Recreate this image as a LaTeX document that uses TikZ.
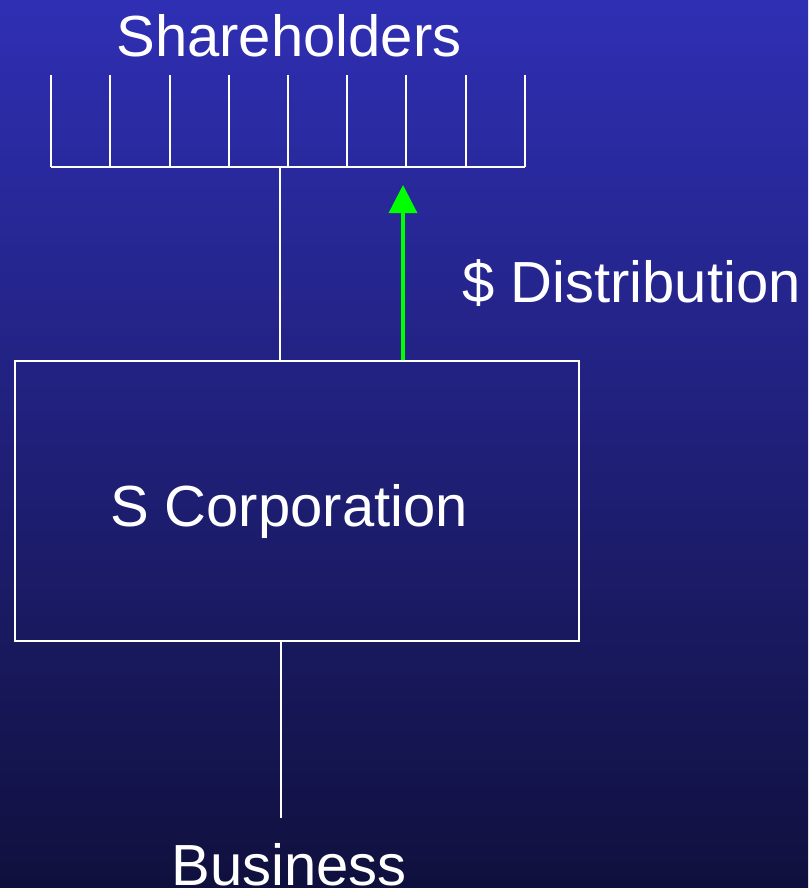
\documentclass[tikz,border=0pt]{standalone}
\usepackage{fontspec}
\setmainfont{Liberation Sans}
\usetikzlibrary{arrows.meta}

\definecolor{bgtop}{RGB}{47,47,180}
\definecolor{bgbottom}{RGB}{16,16,62}
\definecolor{distgreen}{RGB}{0,255,0}

\tikzset{
	wline/.style = {draw=white, line width=2pt},
	bigtext/.style = {text=white, inner sep=0pt, font=\fontsize{43.5}{52}\selectfont},
	distarrow/.style = {draw=distgreen, line width=2.4pt, -{Triangle[width=21pt,length=21pt]}}
}

\begin{document}
\begin{tikzpicture}[x=0.75pt,y=0.75pt,yscale=-1,xscale=1]
		% background
		\shade[top color=bgtop, bottom color=bgbottom] (0,0) rectangle (808,888);
		\useasboundingbox (0,0) rectangle (808,888);

		% shareholders comb
		\draw[wline] (51,167) -- (525,167);
		\foreach \xpos in {51,110,170,229,288,347,406,466,525}
			\draw[wline] (\xpos,75) -- (\xpos,167);

		\node[bigtext, anchor=base] (holders) at (289,57) {Shareholders};
		\node[draw=white, line width=2pt, minimum width=423pt, minimum height=210pt, inner sep=0pt] (corp) at (297,501) {};
		\node[bigtext, anchor=base] (corplabel) at (289,526) {S Corporation};
		\node[bigtext, anchor=base west] (distlabel) at (462,302) {\$ Distribution};
		\node[bigtext, anchor=base] (business) at (289,885) {Business};

		\coordinate (stemtop) at (280,167);
		\coordinate (busend) at (281,818);
		\coordinate (arrowtip) at (403,185);

		\draw[wline] (stemtop) -- (stemtop |- corp.north);
		\draw[wline] (busend |- corp.south) -- (busend);
		\draw[distarrow] (arrowtip |- corp.north) -- (arrowtip);
	\end{tikzpicture}
\end{document}
